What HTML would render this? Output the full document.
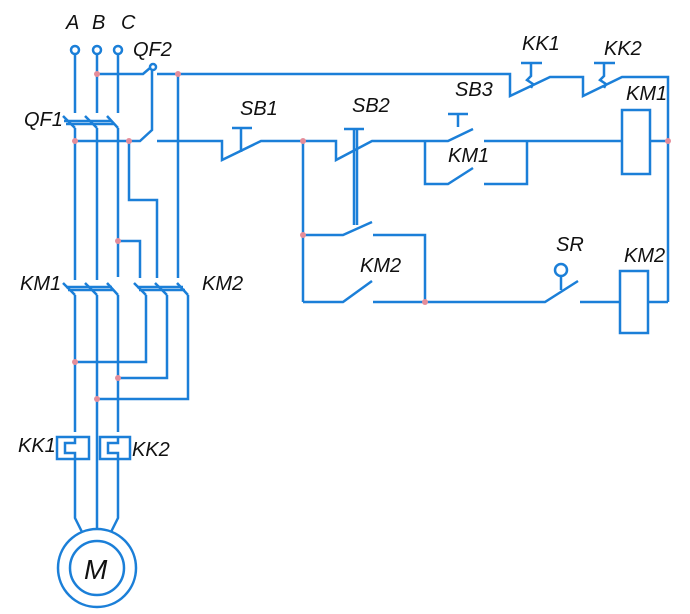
<!DOCTYPE html>
<html><head><meta charset="utf-8"><style>
html,body{margin:0;padding:0;background:#fff;}
svg{display:block}
text{font-family:"Liberation Sans Narrow","Liberation Sans",sans-serif;font-size:20px;fill:#111;font-style:italic;}
</style></head><body>
<svg width="690" height="614" viewBox="0 0 690 614" xmlns="http://www.w3.org/2000/svg">
<g fill="none" stroke="#1b7fd8" stroke-width="2.5" stroke-linejoin="miter">
<circle cx="75" cy="50" r="4"/><circle cx="97" cy="50" r="4"/><circle cx="118" cy="50" r="4"/>
<path d="M75 54V113M97 54V113M118 54V113"/>
<path d="M63 116L75 128M85 116L97 128M107 116L118 128"/>
<path d="M64 121H112M66 124H114"/>
<path d="M75 128V280M97 128V280M118 128V277"/>
<path d="M97 74H143L150 68"/>
<circle cx="153" cy="67" r="3"/>
<path d="M157 74H510V96L550 77H583V96L622 77H668V302"/>
<!-- KK1/KK2 thermal actuators -->
<path d="M521 63H542M531 63V76L527 80L533 84L531 88"/>
<path d="M594 63H615M604 63V76L600 80L606 84L604 88"/>
<path d="M178 74V278"/>
<path d="M75 141H140L152 130V70"/>
<path d="M157 141H222V160L261 141H336V160L372 141H448L473 129"/>
<path d="M232 128H252M241 128V152"/>
<path d="M344 129H364M354 129V225M357 129V225"/>
<path d="M448 114H468M458 114V127"/>
<path d="M484 141H622"/>
<rect x="622" y="110" width="28" height="64"/>
<path d="M650 141H668"/>
<path d="M425 141V184H448L473 168M484 184H527V141"/>
<path d="M303 141V302"/>
<path d="M303 235H343L372 222M373 235H425V302"/>
<path d="M303 302H343L372 281M373 302H545L578 281"/>
<circle cx="561" cy="270" r="6"/><path d="M561 276V290"/>
<path d="M580 302H620"/>
<rect x="620" y="271" width="28" height="62"/>
<path d="M648 302H668"/>
<path d="M118 241H140V278M129 141V200H157V278"/>
<path d="M63 283L75 295M85 283L97 295M107 283L118 295"/>
<path d="M66 287H112M68 290H114"/>
<path d="M134 283L146 295M155 283L167 295M177 283L188 295"/>
<path d="M137 287H183M139 290H185"/>
<path d="M75 295V432M97 295V530M118 295V432"/>
<path d="M146 295V362H75M167 295V378H118M188 295V399H97"/>
<rect x="57" y="437" width="32" height="22"/>
<path d="M75 437V443H65V453H75V459"/>
<rect x="100" y="437" width="30" height="22"/>
<path d="M118 437V443H108V453H118V459"/>
<path d="M75 459V518L82 532M118 459V518L111 532"/>
<circle cx="97" cy="568" r="39"/>
<circle cx="97" cy="568" r="27"/>
</g>
<g fill="#e58d9a">
<circle cx="97" cy="74" r="3"/><circle cx="178" cy="74" r="3"/>
<circle cx="75" cy="141" r="3"/><circle cx="129" cy="141" r="3"/>
<circle cx="303" cy="141" r="3"/><circle cx="668" cy="141" r="3"/>
<circle cx="118" cy="241" r="3"/><circle cx="303" cy="235" r="3"/>
<circle cx="425" cy="302" r="3"/>
<circle cx="75" cy="362" r="3"/><circle cx="118" cy="378" r="3"/><circle cx="97" cy="399" r="3"/>
</g>
<text x="66" y="29">A</text>
<text x="92" y="29">B</text>
<text x="121" y="29">C</text>
<text x="133" y="56">QF2</text>
<text x="24" y="126">QF1</text>
<text x="240" y="115">SB1</text>
<text x="352" y="112">SB2</text>
<text x="455" y="96">SB3</text>
<text x="522" y="50">KK1</text>
<text x="604" y="55">KK2</text>
<text x="626" y="100">KM1</text>
<text x="448" y="162">KM1</text>
<text x="20" y="290">KM1</text>
<text x="202" y="290">KM2</text>
<text x="360" y="272">KM2</text>
<text x="556" y="251">SR</text>
<text x="624" y="262">KM2</text>
<text x="18" y="452">KK1</text>
<text x="132" y="456">KK2</text>
<text x="84" y="579" style="font-size:28px">M</text>
</svg>
</body></html>
